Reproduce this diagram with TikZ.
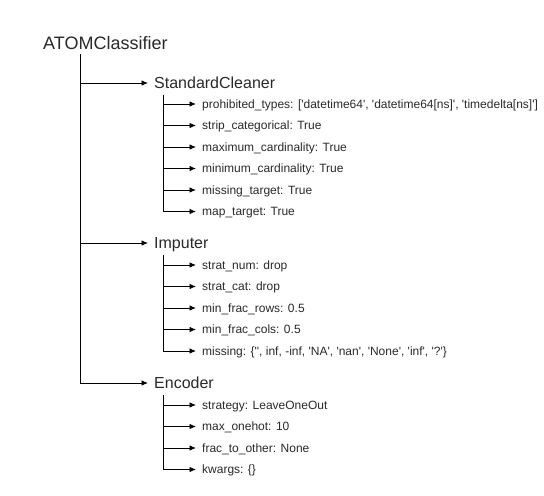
\documentclass[tikz,border=0pt]{standalone}
\usepackage{fontspec}
\setmainfont{Liberation Sans}[Ligatures=TeXOff]
\usetikzlibrary{arrows.meta}
\definecolor{txt}{HTML}{2A2A2A}
\begin{document}
\begin{tikzpicture}[x=1bp,y=-1bp,
  conn/.style={draw=black, line width=0.9bp, -{Latex[length=6.5bp,width=5.5bp]}},
  root/.style={anchor=base west, inner sep=0pt, font=\fontsize{18bp}{20bp}\selectfont, text=txt},
  branch/.style={anchor=west, inner ysep=0pt, inner xsep=6bp, text height=11.5bp, text depth=0bp, font=\fontsize{16bp}{18bp}\selectfont, text=txt},
  leaf/.style={anchor=west, inner ysep=0pt, inner xsep=6bp, text height=8.6bp, text depth=0bp, font=\fontsize{12bp}{14bp}\selectfont, text=txt},
]
\useasboundingbox[fill=white] (0,0) rectangle (544,496);

\node[root] (root) at (43,50) {ATOMClassifier};
\coordinate (t0) at (80,54);

\node[branch] (sc) at (148,83) {StandardCleaner};
\node[branch] (imp) at (148,243) {Imputer};
\node[branch] (enc) at (148,383) {Encoder};

\draw[conn] (t0) |- (sc.west);
\draw[conn] (t0) |- (imp.west);
\draw[conn] (t0) |- (enc.west);

% StandardCleaner
\coordinate (t1) at (163,95);
\node[leaf] (a1) at (196,104) {prohibited\_types: ['datetime64', 'datetime64[ns]', 'timedelta[ns]']};
\node[leaf] (a2) at (196,125.5) {strip\_categorical: True};
\node[leaf] (a3) at (196,147) {maximum\_cardinality: True};
\node[leaf] (a4) at (196,168.5) {minimum\_cardinality: True};
\node[leaf] (a5) at (196,190) {missing\_target: True};
\node[leaf] (a6) at (196,211.5) {map\_target: True};
\foreach \n in {a1,a2,a3,a4,a5,a6} \draw[conn] (t1) |- (\n.west);

% Imputer
\coordinate (t2) at (163,255);
\node[leaf] (b1) at (196,265) {strat\_num: drop};
\node[leaf] (b2) at (196,286.5) {strat\_cat: drop};
\node[leaf] (b3) at (196,308) {min\_frac\_rows: 0.5};
\node[leaf] (b4) at (196,329.5) {min\_frac\_cols: 0.5};
\node[leaf] (b5) at (196,351) {missing: \{'', inf, -inf, 'NA', 'nan', 'None', 'inf', '?'\}};
\foreach \n in {b1,b2,b3,b4,b5} \draw[conn] (t2) |- (\n.west);

% Encoder
\coordinate (t3) at (163,395);
\node[leaf] (c1) at (196,405) {strategy: LeaveOneOut};
\node[leaf] (c2) at (196,426.5) {max\_onehot: 10};
\node[leaf] (c3) at (196,448) {frac\_to\_other: None};
\node[leaf] (c4) at (196,469.5) {kwargs: \{\}};
\foreach \n in {c1,c2,c3,c4} \draw[conn] (t3) |- (\n.west);
\end{tikzpicture}
\end{document}
